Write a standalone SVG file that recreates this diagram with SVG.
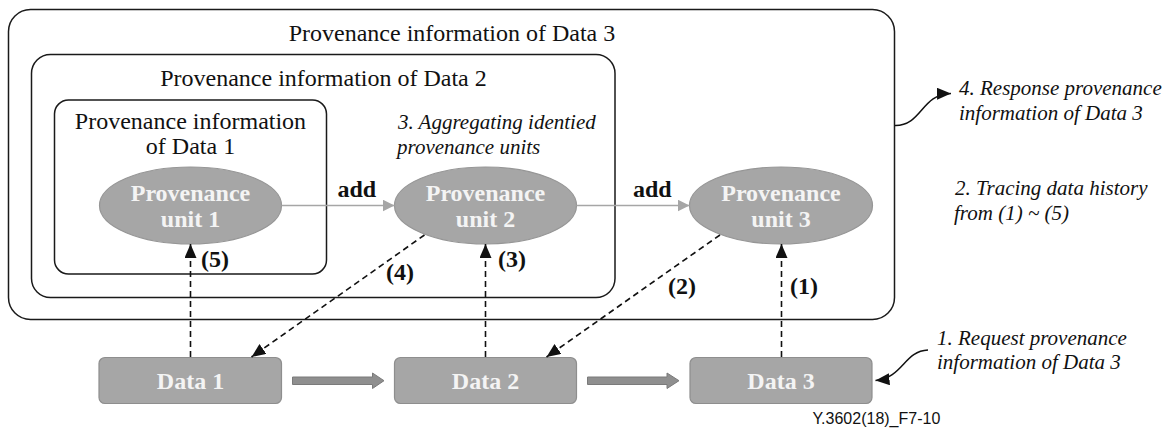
<svg xmlns="http://www.w3.org/2000/svg" width="1173" height="430" viewBox="0 0 1173 430">
  <style>
    .frame { fill: none; stroke: #1a1a1a; stroke-width: 1.5; }
    .title { font-family: "Liberation Serif", "Times New Roman", serif; font-size: 24px; fill: #111; }
    .note { font-family: "Liberation Serif", "Times New Roman", serif; font-size: 21px; font-style: italic; fill: #111; }
    .unit { fill: #a6a6a6; stroke: #969696; stroke-width: 1.2; }
    .unit-text { font-family: "Liberation Serif", "Times New Roman", serif; font-size: 24px; font-weight: bold; fill: #f4f4f4; text-anchor: middle; }
    .data { fill: #a6a6a6; stroke: #8e8e8e; stroke-width: 1.2; }
    .bold-label { font-family: "Liberation Serif", "Times New Roman", serif; font-size: 24px; font-weight: bold; fill: #111; }
    .dash { fill: none; stroke: #111; stroke-width: 1.6; stroke-dasharray: 6 4; marker-end: url(#headBlack); }
    .add-link { fill: none; stroke: #a6a6a6; stroke-width: 1.6; marker-end: url(#headGray); }
    .curve { fill: none; stroke: #111; stroke-width: 1.5; marker-end: url(#headBlack); }
    .flow { fill: #8f8f8f; stroke: #7a7a7a; stroke-width: 1; }
    .fig-id { font-family: "Liberation Sans", Arial, sans-serif; font-size: 16px; fill: #111; }
  </style>
  <defs>
    <marker id="headBlack" markerUnits="userSpaceOnUse" markerWidth="14" markerHeight="12" refX="14" refY="6" orient="auto">
      <path d="M0,0 L14,6 L0,12 z" fill="#111"/>
    </marker>
    <marker id="headGray" markerUnits="userSpaceOnUse" markerWidth="12" markerHeight="12" refX="12" refY="6" orient="auto">
      <path d="M0,0 L12,6 L0,12 z" fill="#a6a6a6"/>
    </marker>
  </defs>

  <!-- nested provenance frames -->
  <g id="prov-data3">
    <rect class="frame" x="8.5" y="9.5" width="886" height="310" rx="22" ry="22"/>
    <text class="title" x="452" y="41" text-anchor="middle">Provenance information of Data 3</text>
  </g>
  <g id="prov-data2">
    <rect class="frame" x="31.5" y="54.5" width="583.5" height="243" rx="19" ry="19"/>
    <text class="title" x="323.5" y="86" text-anchor="middle">Provenance information of Data 2</text>
  </g>
  <g id="prov-data1">
    <rect class="frame" x="54.5" y="100" width="272" height="174" rx="14" ry="14"/>
    <text class="title" x="190.5" y="129" text-anchor="middle">Provenance information</text>
    <text class="title" x="190.5" y="154" text-anchor="middle">of Data 1</text>
  </g>

  <!-- provenance units -->
  <g id="unit1">
    <ellipse class="unit" cx="190.5" cy="205.5" rx="91" ry="38.5"/>
    <text class="unit-text" x="190.5" y="201">Provenance</text>
    <text class="unit-text" x="190.5" y="226.5">unit 1</text>
  </g>
  <g id="unit2">
    <ellipse class="unit" cx="485.5" cy="205.5" rx="91" ry="38.5"/>
    <text class="unit-text" x="485.5" y="201">Provenance</text>
    <text class="unit-text" x="485.5" y="226.5">unit 2</text>
  </g>
  <g id="unit3">
    <ellipse class="unit" cx="781" cy="205.5" rx="91.5" ry="38.5"/>
    <text class="unit-text" x="781" y="201">Provenance</text>
    <text class="unit-text" x="781" y="226.5">unit 3</text>
  </g>

  <!-- data items -->
  <g id="data1">
    <rect class="data" x="99" y="357.5" width="182.5" height="46" rx="6" ry="6"/>
    <text class="unit-text" x="190.5" y="388.5">Data 1</text>
  </g>
  <g id="data2">
    <rect class="data" x="394.5" y="357.5" width="182" height="46" rx="6" ry="6"/>
    <text class="unit-text" x="485.5" y="388.5">Data 2</text>
  </g>
  <g id="data3">
    <rect class="data" x="690" y="357.5" width="182" height="46" rx="6" ry="6"/>
    <text class="unit-text" x="781" y="388.5">Data 3</text>
  </g>

  <!-- annotations -->
  <g id="notes">
    <text class="note" x="398" y="129">3. Aggregating identied</text>
    <text class="note" x="397" y="154">provenance units</text>
    <text class="note" x="959" y="95">4. Response provenance</text>
    <text class="note" x="959" y="120">information of Data 3</text>
    <text class="note" x="955" y="195">2. Tracing data history</text>
    <text class="note" x="954" y="220">from (1) ~ (5)</text>
    <text class="note" x="937" y="345">1. Request provenance</text>
    <text class="note" x="937" y="368.5">information of Data 3</text>
    <text class="fig-id" x="812.5" y="424">Y.3602(18)_F7-10</text>
  </g>

  <!-- connectors -->
  <g id="connectors">
    <!-- aggregation links -->
    <line class="add-link" x1="281.5" y1="205.5" x2="394.5" y2="205.5"/>
    <line class="add-link" x1="576.5" y1="205.5" x2="689.5" y2="205.5"/>
    <text class="bold-label" x="337.5" y="197">add</text>
    <text class="bold-label" x="633" y="197">add</text>

    <!-- data flow block arrows -->
    <path class="flow" d="M292.5,377 L372.5,377 L372.5,373 L384,380.7 L372.5,388.5 L372.5,384.5 L292.5,384.5 z"/>
    <path class="flow" d="M587.5,377 L667,377 L667,373 L679,380.7 L667,388.5 L667,384.5 L587.5,384.5 z"/>

    <!-- tracing steps -->
    <line class="dash" x1="781.5" y1="357" x2="781.5" y2="244"/>
    <line class="dash" x1="720" y1="235" x2="546.5" y2="357"/>
    <line class="dash" x1="485.5" y1="357" x2="485.5" y2="244"/>
    <line class="dash" x1="424.5" y1="235" x2="251.5" y2="357"/>
    <line class="dash" x1="190.5" y1="357" x2="190.5" y2="244"/>
    <text class="bold-label" x="790" y="294">(1)</text>
    <text class="bold-label" x="668" y="294">(2)</text>
    <text class="bold-label" x="498" y="267">(3)</text>
    <text class="bold-label" x="386" y="280">(4)</text>
    <text class="bold-label" x="201" y="267">(5)</text>

    <!-- request and response -->
    <path class="curve" d="M928,350 C904,351 903,378 875.5,380.5"/>
    <path class="curve" d="M895,125.5 C922,126 921,94 951,93.5"/>
  </g>
</svg>
